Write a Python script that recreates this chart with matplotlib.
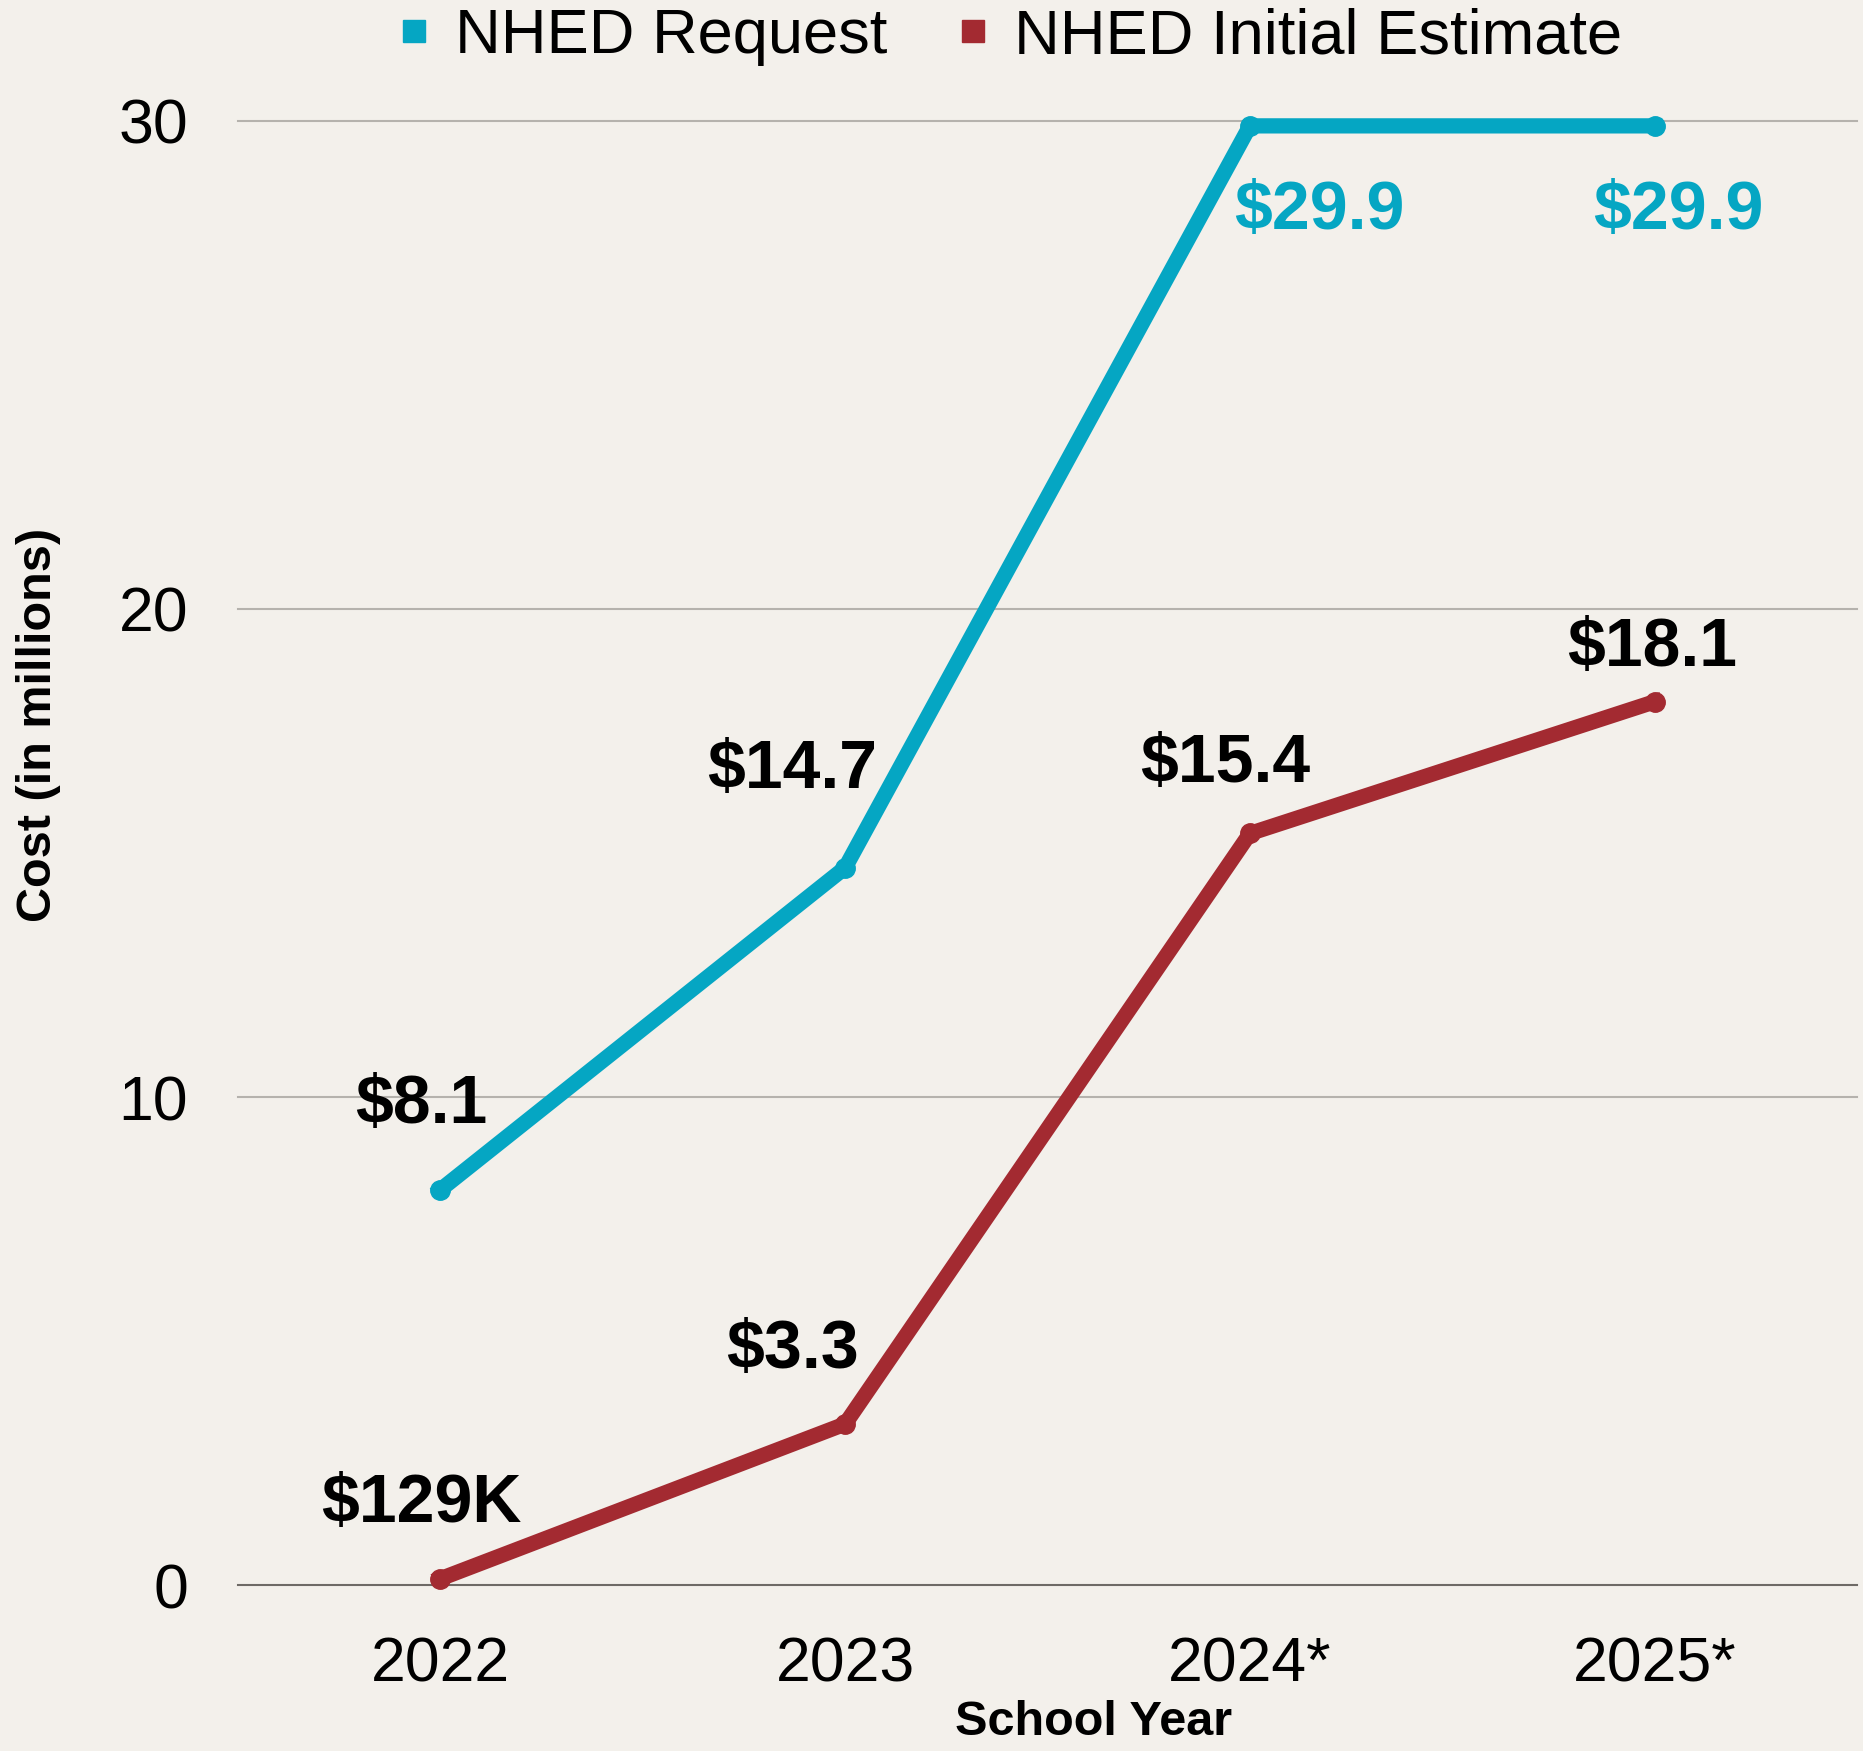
import matplotlib.pyplot as plt
from matplotlib.lines import Line2D

plt.rcParams['font.family'] = ['Liberation Sans', 'DejaVu Sans']

# data
years = ['2022', '2023', '2024*', '2025*']
request = [8.1, 14.7, 29.9, 29.9]
estimate = [0.129, 3.3, 15.4, 18.1]
request_labels = ['$8.1', '$14.7', '$29.9', '$29.9']
estimate_labels = ['$129K', '$3.3', '$15.4', '$18.1']

teal = '#05A6C3'
red = '#A32A31'
bg = '#F3F0EB'

fig = plt.figure(figsize=(18.63, 17.51), dpi=100, facecolor=bg)
ax = fig.add_axes([0.1278, 0.0948, 0.869, 0.8361], facecolor=bg)

x = list(range(len(years)))
ax.plot(x, request, color=teal, lw=11, marker='o', ms=14, clip_on=False, zorder=3)
ax.plot(x, estimate, color=red, lw=11, marker='o', ms=14, clip_on=False, zorder=3)

# label offsets in points
req_off = [(-14, 61), (-38, 70), (50, -61), (17, -61)]
est_off = [(-14, 54), (-38, 53), (-18, 50), (-2, 39)]
for i in x:
    ax.annotate(request_labels[i], (i, request[i]), xytext=req_off[i], textcoords='offset points',
                ha='center', va='center', fontsize=49, fontweight='bold',
                color=teal if i >= 2 else 'black')
    ax.annotate(estimate_labels[i], (i, estimate[i]), xytext=est_off[i], textcoords='offset points',
                ha='center', va='center', fontsize=49, fontweight='bold', color='black')

ax.set_xlim(-0.5, 3.5)
ax.set_ylim(0, 30)
ax.set_yticks([0, 10, 20, 30])
ax.set_xticks(x)
ax.set_xticklabels(years)
for y in [10, 20, 30]:
    ax.axhline(y, color='#B5B2AD', lw=1.5, zorder=1, clip_on=False)
ax.axhline(0, color='#6E6A66', lw=1.5, zorder=1, clip_on=False)
for s in ax.spines.values():
    s.set_visible(False)
ax.tick_params(axis='both', length=0, labelsize=45, pad=36)

fig.text(0.587, 0.0165, 'School Year', fontsize=35, fontweight='bold', ha='center', va='center')
fig.text(0.0204, 0.586, 'Cost (in millions)', rotation=90, fontsize=35, fontweight='bold',
         ha='center', va='center')

handles = [Line2D([], [], ls='none', marker='s', ms=16.5, color=teal),
           Line2D([], [], ls='none', marker='s', ms=16.5, color=red)]
fig.legend(handles, ['NHED Request', 'NHED Initial Estimate'], loc='center',
           bbox_to_anchor=(0.543, 0.979), ncol=2, frameon=False, fontsize=45.5,
           handlelength=0.4, handletextpad=0.45, columnspacing=1.15, borderaxespad=0)

fig.savefig('out.png', dpi=100, facecolor=bg)
